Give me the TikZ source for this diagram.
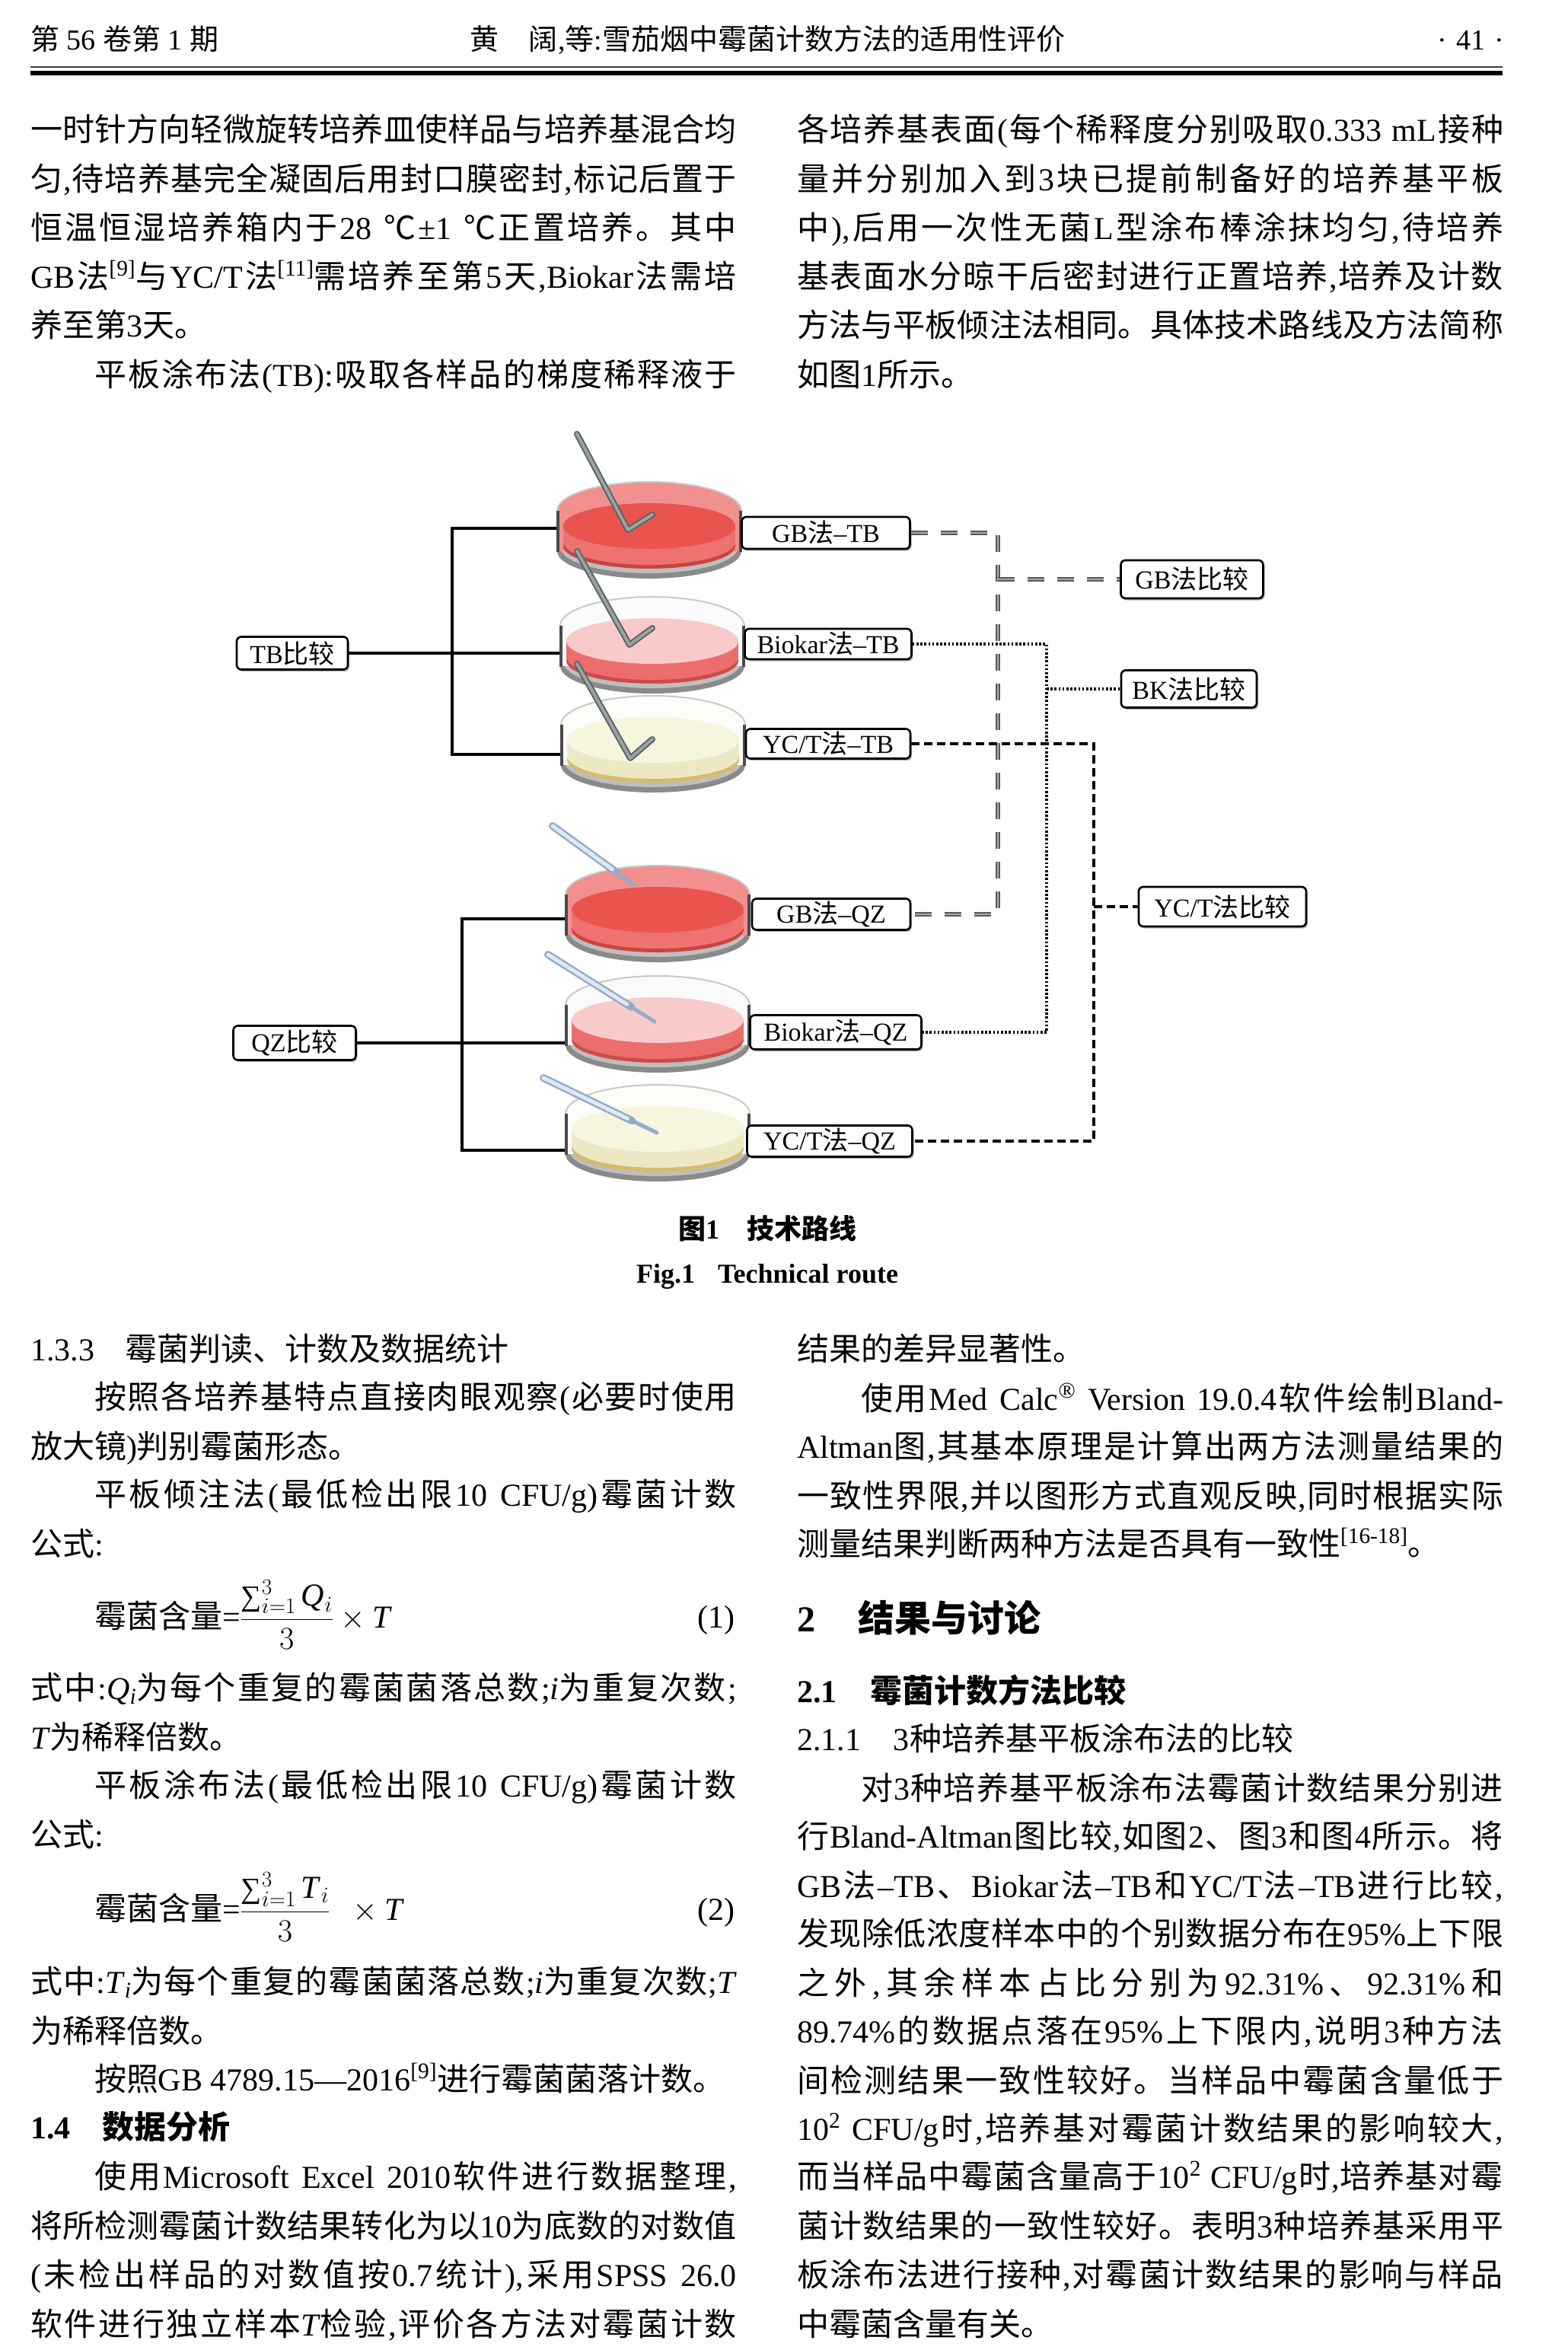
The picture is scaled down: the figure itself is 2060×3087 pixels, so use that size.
\RequirePackage{fix-cm}
\documentclass[tikz,border=0pt]{standalone}
\usepackage{fontspec}
\setmainfont{Liberation Serif}
\newfontfamily\cjk{Noto Sans CJK SC}
\usetikzlibrary{shadows,calc}

% automatic switch between Latin (Liberation Serif) and CJK (Noto Sans CJK SC)
\XeTeXinterchartokenstate=1
\chardef\CJKcls=10
\newcount\cjkc
\cjkc="3000 \loop \XeTeXcharclass\cjkc=\CJKcls \advance\cjkc by 1 \ifnum\cjkc<"3040 \repeat
\cjkc="4E00 \loop \XeTeXcharclass\cjkc=\CJKcls \advance\cjkc by 1 \ifnum\cjkc<"A000 \repeat
\cjkc="FF00 \loop \XeTeXcharclass\cjkc=\CJKcls \advance\cjkc by 1 \ifnum\cjkc<"FFF0 \repeat
\XeTeXcharclass"2103=\CJKcls
\XeTeXinterchartoks 0 \CJKcls = {\cjk\hskip0pt plus 3pt minus 1pt\relax}
\XeTeXinterchartoks 4095 \CJKcls = {\cjk}
\XeTeXinterchartoks \CJKcls 0 = {\hskip0pt plus 3pt minus 1pt\rmfamily}
\XeTeXinterchartoks \CJKcls 4095 = {\rmfamily}
\XeTeXinterchartoks 4095 0 = {\rmfamily}
\XeTeXinterchartoks \CJKcls \CJKcls = {\hskip0pt plus 3pt minus 1pt\relax}

\newcommand\bodyfont{\fontsize{42}{64}\selectfont}
\newcommand\boxfont{\fontsize{34}{36}\selectfont}
\newcommand\hdrfont{\fontsize{38}{40}\selectfont}
\newcommand\capfont{\fontsize{36}{40}\selectfont}
\newcommand\bigsum{\mathop{\mbox{\fontsize{38}{38}\selectfont ∑}}\nolimits}

\definecolor{gbgray}{HTML}{5A5A5A}
\definecolor{gbgraylt}{HTML}{A8A8A8}
\definecolor{gblid}{HTML}{F29090}
\definecolor{gbsurf}{HTML}{E9544F}
\definecolor{gbband}{HTML}{EE7370}
\definecolor{gbbanddk}{HTML}{C94340}
\definecolor{bklid}{HTML}{FAFAFA}
\definecolor{bksurf}{HTML}{F8CBCA}
\definecolor{bkband}{HTML}{EB6E6C}
\definecolor{bkbanddk}{HTML}{CC4C4A}
\definecolor{yclid}{HTML}{FCFCF8}
\definecolor{ycsurf}{HTML}{F6F5DD}
\definecolor{ycband}{HTML}{ECE8C4}
\definecolor{ycbanddk}{HTML}{D6BC68}
\definecolor{glassdk}{HTML}{8A8A8A}
\definecolor{glasslt}{HTML}{BEBEBE}
\definecolor{rimc}{HTML}{C9C9C9}
\definecolor{wallc}{HTML}{4A4A4A}
\definecolor{rodout}{HTML}{5B6363}
\definecolor{rodin}{HTML}{9AA2A2}
\definecolor{pipout}{HTML}{95ABC8}
\definecolor{pipin}{HTML}{DDE9F4}

\tikzset{
  txt/.style={anchor=base west, inner sep=0pt, outer sep=0pt, font=\bodyfont},
  hdr/.style={anchor=base west, inner sep=0pt, outer sep=0pt, font=\hdrfont},
  box/.style={draw=black, line width=2.6pt, rounded corners=6pt, fill=white,
    inner sep=0pt, font=\boxfont,
    drop shadow={shadow xshift=2pt, shadow yshift=-2.5pt, opacity=0.3, fill=black}},
  tree/.style={draw=black, line width=3.6pt},
  gbline/.style={draw=gbgray, line width=2pt, double=gbgraylt, double distance=2.2pt,
    dash pattern=on 22pt off 17pt},
  bkline/.style={draw=black, line width=3.6pt, dash pattern=on 2.6pt off 2.6pt},
  ycline/.style={draw=black, line width=4pt, dash pattern=on 11pt off 6pt},
  rodo/.style={draw=rodout, line width=8pt, line cap=round, line join=round},
  rodi/.style={draw=rodin, line width=4pt, line cap=round, line join=round},
  pipo/.style={draw=pipout, line width=10pt, line cap=round},
  pipi/.style={draw=pipin, line width=5pt, line cap=round},
}

\newcount\lnum
\newcommand\tlfull[3]{\global\advance\lnum by 1\relax
  \node[txt] (ln\the\lnum) at (#1,#2) {\hbox to 928pt{#3}};}
\newcommand\tlleft[3]{\global\advance\lnum by 1\relax
  \node[txt] (ln\the\lnum) at (#1,#2) {#3};}

% petri dish: cx, cy, lid, surface, band, band dark
\newcommand\dish[6]{%
  \begin{scope}[shift={(#1,#2)}]
    \fill[glassdk] (0,33) ellipse [x radius=121, y radius=36];
    \fill[glasslt] (0,29) ellipse [x radius=116, y radius=33];
    \fill[#3] (-121,-20) rectangle (121,33);
    \fill[#3] (0,-20) ellipse [x radius=121, y radius=38];
    \fill[#6] (0,26) ellipse [x radius=113, y radius=30];
    \fill[#5] (-113,0) rectangle (113,21);
    \fill[#5] (0,21) ellipse [x radius=113, y radius=30];
    \fill[#4] (0,0) ellipse [x radius=113, y radius=30];
    \draw[rimc, line width=2pt] (-121,-20) arc [start angle=180, end angle=360, x radius=121, y radius=38];
    \draw[wallc, line width=4pt] (-120,-20) -- (-120,34);
    \draw[wallc, line width=4pt] (120,-20) -- (120,34);
  \end{scope}}
\newcommand\rod[3]{\draw[rodo] #1 -- #2 -- #3; \draw[rodi] #1 -- #2 -- #3;}
\newcommand\pipette[2]{%
  \draw[pipo] #1 -- ($#1!0.78!#2$);
  \draw[draw=pipout, line width=5pt, line cap=round] ($#1!0.7!#2$) -- #2;
  \draw[pipi] #1 -- ($#1!0.74!#2$);}

\begin{document}
\begin{tikzpicture}[x=1pt,y=-1pt]
\useasboundingbox (0,0) rectangle (2060,3087);
\fill[white] (0,0) rectangle (2060,3087);

% ---------- running head ----------
\node[hdr] (h1) at (40,65) {第 56 卷第 1 期};
\node[hdr] (h2) at (617,65) {黄\hspace{40pt}阔,等:雪茄烟中霉菌计数方法的适用性评价};
\node[hdr, anchor=base east] (h3) at (1976,65) {·\hspace{12pt}41\hspace{12pt}·};
\draw[line width=2.5pt, draw=black!75] (40,88) -- (1974,88);
\draw[line width=6pt, draw=black] (40,96) -- (1974,96);

% ---------- top text ----------
\tlfull{40}{185}{一时针方向轻微旋转培养皿使样品与培养基混合均}
\tlfull{40}{250}{匀,待培养基完全凝固后用封口膜密封,标记后置于}
\tlfull{40}{314}{恒温恒湿培养箱内于28 ℃±1 ℃正置培养。其中}
\tlfull{40}{378}{GB法\textsuperscript{[9]}与YC/T法\textsuperscript{[11]}需培养至第5天,Biokar法需培}
\tlleft{40}{442}{养至第3天。}
\tlfull{40}{507}{\hspace*{84pt}平板涂布法(TB):吸取各样品的梯度稀释液于}

\tlfull{1047}{185}{各培养基表面(每个稀释度分别吸取0.333 mL接种}
\tlfull{1047}{250}{量并分别加入到3块已提前制备好的培养基平板}
\tlfull{1047}{314}{中),后用一次性无菌L型涂布棒涂抹均匀,待培养}
\tlfull{1047}{378}{基表面水分晾干后密封进行正置培养,培养及计数}
\tlfull{1047}{442}{方法与平板倾注法相同。具体技术路线及方法简称}
\tlleft{1047}{507}{如图1所示。}

% ---------- figure ----------
\coordinate (tbx) at (594,0);
\coordinate (qzx) at (607,0);
\coordinate (dtb1w) at (733,694);
\coordinate (dtb2w) at (737,858);
\coordinate (dtb3w) at (738,991);
\coordinate (dqz1w) at (746,1207);
\coordinate (dqz2w) at (746,1370);
\coordinate (dqz3w) at (746,1511);
\coordinate (gbx) at (1311,0);
\coordinate (bkx) at (1375,0);
\coordinate (ycx) at (1437,0);

\node[box, minimum width=146pt, minimum height=43pt] (tb) at (384,858) {TB比较};
\node[box, minimum width=161pt, minimum height=45pt] (qz) at (387,1370) {QZ比较};

\draw[tree] (dtb1w) -- (dtb1w -| tbx) -- (dtb3w -| tbx) -- (dtb3w);
\draw[tree] (tb.east) -- (dtb2w);
\draw[tree] (dqz1w) -- (dqz1w -| qzx) -- (dqz3w -| qzx) -- (dqz3w);
\draw[tree] (qz.east) -- (dqz2w);

\dish{853}{691}{gblid}{gbsurf}{gbband}{gbbanddk}
\dish{857}{842}{bklid}{bksurf}{bkband}{bkbanddk}
\dish{858}{972}{yclid}{ycsurf}{ycband}{ycbanddk}
\dish{864}{1195}{gblid}{gbsurf}{gbband}{gbbanddk}
\dish{864}{1340}{bklid}{bksurf}{bkband}{bkbanddk}
\dish{864}{1483}{yclid}{ycsurf}{ycband}{ycbanddk}

\rod{(758,570)}{(825,696)}{(857,676)}
\rod{(758,724)}{(827,847)}{(857,825)}
\rod{(758,872)}{(828,996)}{(857,971)}
\pipette{(726,1085)}{(832,1162)}
\pipette{(720,1254)}{(860,1342)}
\pipette{(714,1416)}{(863,1488)}

\node[box, minimum width=221pt, minimum height=42pt] (gbtb) at (1085,700) {GB法–TB};
\node[box, minimum width=219pt, minimum height=40pt] (bktb) at (1088,846) {Biokar法–TB};
\node[box, minimum width=216pt, minimum height=39pt] (yctb) at (1088,977) {YC/T法–TB};
\node[box, minimum width=208pt, minimum height=41pt] (gbqz) at (1092,1201) {GB法–QZ};
\node[box, minimum width=225pt, minimum height=45pt] (bkqz) at (1098,1356) {Biokar法–QZ};
\node[box, minimum width=217pt, minimum height=41pt] (ycqz) at (1090,1499) {YC/T法–QZ};
\node[box, minimum width=187pt, minimum height=50pt] (gbcmp) at (1566,761) {GB法比较};
\node[box, minimum width=178pt, minimum height=49pt] (bkcmp) at (1562,905) {BK法比较};
\node[box, minimum width=220pt, minimum height=52pt] (yccmp) at (1606,1191) {YC/T法比较};

\draw[gbline] (gbtb.east) -- (gbtb.east -| gbx) -- (gbqz.east -| gbx) -- (gbqz.east);
\draw[gbline] (gbcmp.west -| gbx) -- (gbcmp.west);
\draw[bkline] (bktb.east) -- (bktb.east -| bkx) -- (bkqz.east -| bkx) -- (bkqz.east);
\draw[bkline] (bkcmp.west -| bkx) -- (bkcmp.west);
\draw[ycline] (yctb.east) -- (yctb.east -| ycx) -- (ycqz.east -| ycx) -- (ycqz.east);
\draw[ycline] (yccmp.west -| ycx) -- (yccmp.west);

% caption
\node[anchor=base, inner sep=0pt, font=\capfont\bfseries] (cap1) at (1008,1627) {图1\hspace{36pt}技术路线};
\node[anchor=base, inner sep=0pt, font=\capfont\bfseries] (cap2) at (1008,1685) {Fig.1\hspace{30pt}Technical route};

% ---------- lower left column ----------
\tlleft{40}{1787}{\makebox[124pt][l]{1.3.3}霉菌判读、计数及数据统计}
\tlfull{40}{1850}{\hspace*{84pt}按照各培养基特点直接肉眼观察(必要时使用}
\tlleft{40}{1915}{放大镜)判别霉菌形态。}
\tlfull{40}{1978}{\hspace*{84pt}平板倾注法(最低检出限10 CFU/g)霉菌计数}
\tlleft{40}{2043}{公式:}
\tlleft{124}{2138}{霉菌含量=${\displaystyle\frac{\bigsum_{i=1}^{3}\mbox{\textit{Q}}_i}{3}}\times\mbox{\textit{T}}$}
\node[txt, anchor=base east] (eq1) at (965,2138) {(1)};
\tlfull{40}{2232}{式中:\textit{Q}\textsubscript{\textit{i}}为每个重复的霉菌菌落总数;\textit{i}为重复次数;}
\tlleft{40}{2297}{\textit{T}为稀释倍数。}
\tlfull{40}{2360}{\hspace*{84pt}平板涂布法(最低检出限10 CFU/g)霉菌计数}
\tlleft{40}{2425}{公式:}
\tlleft{124}{2522}{霉菌含量=${\displaystyle\frac{\bigsum_{i=1}^{3}\mbox{\textit{T}}_i}{3}}\ \ \times\mbox{\textit{T}}$}
\node[txt, anchor=base east] (eq2) at (965,2522) {(2)};
\tlfull{40}{2618}{式中:\textit{T}\textsubscript{\textit{i}}为每个重复的霉菌菌落总数;\textit{i}为重复次数;\textit{T}}
\tlleft{40}{2683}{为稀释倍数。}
\tlleft{40}{2746}{\hspace*{84pt}按照GB 4789.15—2016\textsuperscript{[9]}进行霉菌菌落计数。}
\tlleft{40}{2809}{\bfseries\makebox[94pt][l]{1.4}数据分析}
\tlfull{40}{2874}{\hspace*{84pt}使用Microsoft Excel 2010软件进行数据整理,}
\tlfull{40}{2939}{将所检测霉菌计数结果转化为以10为底数的对数值}
\tlfull{40}{3003}{(未检出样品的对数值按0.7统计),采用SPSS 26.0}
\tlfull{40}{3068}{软件进行独立样本\textit{T}检验,评价各方法对霉菌计数}

% ---------- lower right column ----------
\tlleft{1047}{1787}{结果的差异显著性。}
\tlfull{1047}{1852}{\hspace*{84pt}使用Med Calc\textsuperscript{®} Version 19.0.4软件绘制Bland-}
\tlfull{1047}{1915}{Altman图,其基本原理是计算出两方法测量结果的}
\tlfull{1047}{1980}{一致性界限,并以图形方式直观反映,同时根据实际}
\tlleft{1047}{2043}{测量结果判断两种方法是否具有一致性\textsuperscript{[16-18]}。}
\tlleft{1047}{2143}{\fontsize{48}{50}\selectfont\bfseries\makebox[80pt][l]{2}结果与讨论}
\tlleft{1047}{2236}{\bfseries\makebox[96pt][l]{2.1}霉菌计数方法比较}
\tlleft{1047}{2299}{\makebox[127pt][l]{2.1.1}3种培养基平板涂布法的比较}
\tlfull{1047}{2364}{\hspace*{84pt}对3种培养基平板涂布法霉菌计数结果分别进}
\tlfull{1047}{2427}{行Bland-Altman图比较,如图2、图3和图4所示。将}
\tlfull{1047}{2492}{GB法–TB、Biokar法–TB和YC/T法–TB进行比较,}
\tlfull{1047}{2555}{发现除低浓度样本中的个别数据分布在95\%上下限}
\tlfull{1047}{2620}{之外,其余样本占比分别为92.31\%、92.31\%和}
\tlfull{1047}{2683}{89.74\%的数据点落在95\%上下限内,说明3种方法}
\tlfull{1047}{2748}{间检测结果一致性较好。当样品中霉菌含量低于}
\tlfull{1047}{2811}{10\textsuperscript{2} CFU/g时,培养基对霉菌计数结果的影响较大,}
\tlfull{1047}{2874}{而当样品中霉菌含量高于10\textsuperscript{2} CFU/g时,培养基对霉}
\tlfull{1047}{2939}{菌计数结果的一致性较好。表明3种培养基采用平}
\tlfull{1047}{3003}{板涂布法进行接种,对霉菌计数结果的影响与样品}
\tlleft{1047}{3068}{中霉菌含量有关。}
\end{tikzpicture}
\end{document}
